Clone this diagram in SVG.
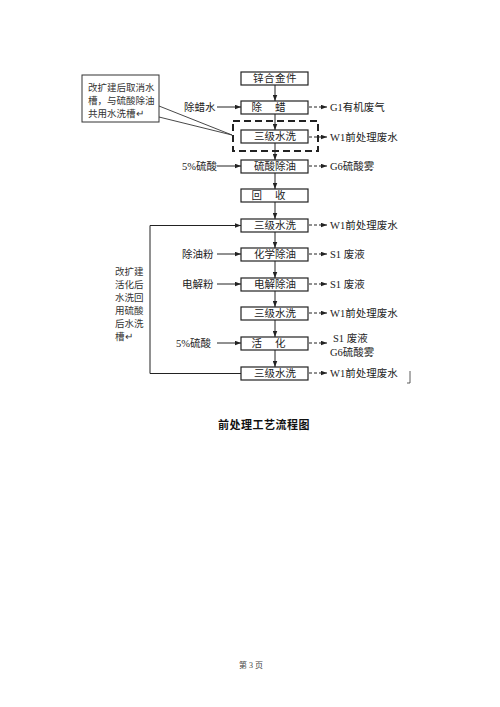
<svg xmlns="http://www.w3.org/2000/svg" width="500" height="707" viewBox="0 0 500 707">
<style>
.box{fill:#fff;stroke:#222;stroke-width:1.2}
.bt{font-family:"Liberation Serif","Noto Sans CJK SC",serif;font-size:10.5px;fill:#222;text-anchor:middle}
.lt{font-family:"Liberation Serif","Noto Sans CJK SC",serif;font-size:10.5px;fill:#222}
.st{font-family:"Liberation Sans","Noto Sans CJK SC",sans-serif;font-size:9.5px;fill:#333}
.ln{stroke:#222;stroke-width:1;fill:none}
.dl{stroke:#222;stroke-width:1;fill:none;stroke-dasharray:3 2}
</style>
<defs>
<marker id="ah" viewBox="0 0 8 6" refX="8" refY="3" markerWidth="6" markerHeight="5" orient="auto" markerUnits="userSpaceOnUse">
<path d="M0,0 L8,3 L0,6 z" fill="#222"/>
</marker>
</defs>
<rect width="500" height="707" fill="#fff"/>

<g id="connectors">
<line class="ln" x1="275" y1="85" x2="275" y2="101" marker-end="url(#ah)"/>
<line class="ln" x1="275" y1="114" x2="275" y2="130" marker-end="url(#ah)"/>
<line class="ln" x1="275" y1="143" x2="275" y2="160" marker-end="url(#ah)"/>
<line class="ln" x1="275" y1="173" x2="275" y2="189" marker-end="url(#ah)"/>
<line class="ln" x1="275" y1="202" x2="275" y2="219" marker-end="url(#ah)"/>
<line class="ln" x1="275" y1="232" x2="275" y2="248" marker-end="url(#ah)"/>
<line class="ln" x1="275" y1="261" x2="275" y2="278" marker-end="url(#ah)"/>
<line class="ln" x1="275" y1="291" x2="275" y2="307" marker-end="url(#ah)"/>
<line class="ln" x1="275" y1="320" x2="275" y2="337" marker-end="url(#ah)"/>
<line class="ln" x1="275" y1="350" x2="275" y2="367" marker-end="url(#ah)"/>
<line class="ln" x1="217" y1="107" x2="241" y2="107" marker-end="url(#ah)"/>
<line class="ln" x1="217" y1="166" x2="241" y2="166" marker-end="url(#ah)"/>
<line class="ln" x1="217" y1="254" x2="241" y2="254" marker-end="url(#ah)"/>
<line class="ln" x1="217" y1="284" x2="241" y2="284" marker-end="url(#ah)"/>
<line class="ln" x1="217" y1="343" x2="241" y2="343" marker-end="url(#ah)"/>
<line class="dl" x1="309" y1="107" x2="327" y2="107" marker-end="url(#ah)"/>
<line class="dl" x1="309" y1="137" x2="327" y2="137" marker-end="url(#ah)"/>
<line class="dl" x1="309" y1="166" x2="327" y2="166" marker-end="url(#ah)"/>
<line class="dl" x1="309" y1="225" x2="327" y2="225" marker-end="url(#ah)"/>
<line class="dl" x1="309" y1="254" x2="327" y2="254" marker-end="url(#ah)"/>
<line class="dl" x1="309" y1="284" x2="327" y2="284" marker-end="url(#ah)"/>
<line class="dl" x1="309" y1="313" x2="327" y2="313" marker-end="url(#ah)"/>
<line class="dl" x1="309" y1="343" x2="327" y2="343" marker-end="url(#ah)"/>
<line class="dl" x1="309" y1="373" x2="327" y2="373" marker-end="url(#ah)"/>
<polyline class="ln" points="241,373.5 150,373.5 150,225.5 241,225.5" marker-end="url(#ah)"/>
</g>

<g id="dashed-frame">
<rect x="233" y="121" width="85" height="30" fill="none" stroke="#222" stroke-width="2" stroke-dasharray="7 4"/>
</g>

<g id="callout">
<rect x="82" y="75" width="77" height="47" fill="#fff" stroke="#333" stroke-width="1"/>
<polyline points="159,106 232,135 159,117" fill="none" stroke="#333" stroke-width="0.9"/>
<text class="st" x="88" y="91">改扩建后取消水</text>
<text class="st" x="88" y="104">槽，与硫酸除油</text>
<text class="st" x="88" y="117">共用水洗槽↵</text>
</g>

<g id="n1"><rect class="box" x="241" y="72" width="67" height="13"/><text class="bt" x="275" y="82" letter-spacing="0.5">锌合金件</text></g>
<g id="n2"><rect class="box" x="241" y="101" width="67" height="13"/><text class="bt" x="275" y="111" letter-spacing="13">除蜡</text></g>
<g id="n3"><rect class="box" x="241" y="130" width="67" height="13"/><text class="bt" x="275" y="140">三级水洗</text></g>
<g id="n4"><rect class="box" x="241" y="160" width="67" height="13"/><text class="bt" x="275" y="170">硫酸除油</text></g>
<g id="n5"><rect class="box" x="241" y="189" width="67" height="13"/><text class="bt" x="275" y="199" letter-spacing="13">回收</text></g>
<g id="n6"><rect class="box" x="241" y="219" width="67" height="13"/><text class="bt" x="275" y="229">三级水洗</text></g>
<g id="n7"><rect class="box" x="241" y="248" width="67" height="13"/><text class="bt" x="275" y="258">化学除油</text></g>
<g id="n8"><rect class="box" x="241" y="278" width="67" height="13"/><text class="bt" x="275" y="288">电解除油</text></g>
<g id="n9"><rect class="box" x="241" y="307" width="67" height="13"/><text class="bt" x="275" y="317">三级水洗</text></g>
<g id="n10"><rect class="box" x="241" y="337" width="67" height="13"/><text class="bt" x="275" y="347" letter-spacing="13">活化</text></g>
<g id="n11"><rect class="box" x="241" y="367" width="67" height="13"/><text class="bt" x="275" y="377">三级水洗</text></g>

<g id="inputs">
<text class="lt" x="184" y="111">除蜡水</text>
<text class="lt" x="182" y="170">5%硫酸</text>
<text class="lt" x="182" y="258">除油粉</text>
<text class="lt" x="182" y="288">电解粉</text>
<text class="lt" x="176" y="347">5%硫酸</text>
</g>

<g id="outputs">
<text class="lt" x="330" y="111">G1有机废气</text>
<text class="lt" x="330" y="141">W1前处理废水</text>
<text class="lt" x="330" y="170">G6硫酸雾</text>
<text class="lt" x="330" y="229">W1前处理废水</text>
<text class="lt" x="330" y="258">S1 废液</text>
<text class="lt" x="330" y="288">S1 废液</text>
<text class="lt" x="330" y="317">W1前处理废水</text>
<text class="lt" x="333" y="342">S1 废液</text>
<text class="lt" x="330" y="356">G6硫酸雾</text>
<text class="lt" x="330" y="377">W1前处理废水</text>
</g>

<g id="loop-note">
<text class="st" x="115" y="275">改扩建</text>
<text class="st" x="115" y="288">活化后</text>
<text class="st" x="115" y="301">水洗回</text>
<text class="st" x="115" y="314">用硫酸</text>
<text class="st" x="115" y="327">后水洗</text>
<text class="st" x="115" y="340">槽↵</text>
</g>

<g id="mark">
<line x1="410" y1="371" x2="410" y2="383" stroke="#333" stroke-width="0.8"/>
<line x1="407" y1="383" x2="410" y2="383" stroke="#333" stroke-width="0.8"/>
</g>

<text x="264" y="429" font-family="Liberation Serif,Noto Sans CJK SC,serif" font-size="11" font-weight="bold" text-anchor="middle" fill="#111" letter-spacing="0.5">前处理工艺流程图</text>
<text x="251" y="668" font-family="Liberation Serif,Noto Sans CJK SC,serif" font-size="8" text-anchor="middle" fill="#444">第 3 页</text>
</svg>
